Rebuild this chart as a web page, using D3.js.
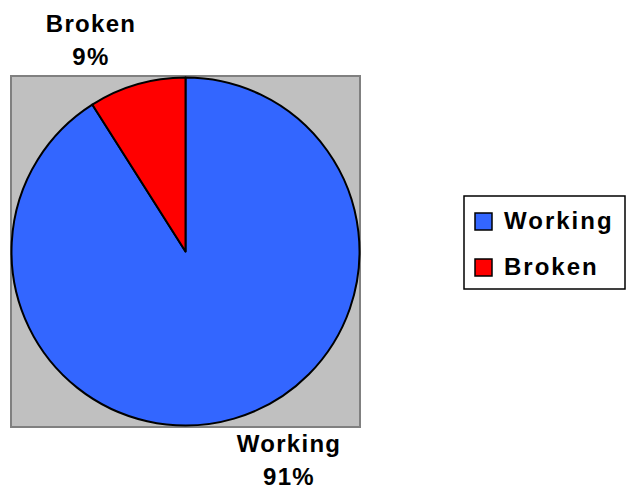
<!DOCTYPE html>
<html>
<head>
<meta charset="utf-8">
<script src="https://cdn.jsdelivr.net/npm/d3@7"></script>
<style>
body { margin: 0; background: #fff; }
text { font-family: "Liberation Sans", Arial, sans-serif; font-weight: bold; }
</style>
</head>
<body>
<div id="chart-area"></div>
<script>
var categories = ["Working", "Broken"];
var values = [91, 9];
var colors = ["#3366FF", "#FF0000"];

var width = 627, height = 490;

var svg = d3.select("#chart-area").append("svg")
    .attr("width", width)
    .attr("height", height);

// plot area
var plot = { x: 11, y: 76, w: 349, h: 351 };
svg.append("rect")
    .attr("x", plot.x)
    .attr("y", plot.y)
    .attr("width", plot.w)
    .attr("height", plot.h)
    .attr("fill", "#C0C0C0")
    .attr("stroke", "#808080")
    .attr("stroke-width", 2);

var cx = plot.x + plot.w / 2, cy = plot.y + plot.h / 2;
var radius = 174;

var data = categories.map(function(c, i) {
    return { name: c, value: values[i], color: colors[i] };
});

// working goes clockwise from 12 o'clock, broken fills the rest
var pie = d3.pie()
    .sort(null)
    .value(function(d) { return d.value; });

var arc = d3.arc().innerRadius(0).outerRadius(radius);

var g = svg.append("g")
    .attr("transform", "translate(" + cx + " " + cy + ")");

var arcs = pie(data);

g.selectAll("path")
    .data(arcs).enter()
    .append("path")
        .attr("d", arc)
        .attr("fill", function(d) { return d.data.color; })
        .attr("stroke", "#000")
        .attr("stroke-width", 2)
        .attr("stroke-linejoin", "round");

// labels outside the pie
var labelPos = [
    { x: 289, y: 452 },   // Working
    { x: 91, y: 32 }      // Broken
];
var fmt = d3.format(".0%");
var total = d3.sum(values);

var labels = svg.selectAll(".slice-label")
    .data(data).enter()
    .append("text")
        .attr("class", "slice-label")
        .attr("text-anchor", "middle")
        .attr("font-size", "24px")
        .attr("letter-spacing", "1.3px");

labels.append("tspan")
    .attr("x", function(d, i) { return labelPos[i].x; })
    .attr("y", function(d, i) { return labelPos[i].y; })
    .text(function(d) { return d.name; });
labels.append("tspan")
    .attr("x", function(d, i) { return labelPos[i].x; })
    .attr("y", function(d, i) { return labelPos[i].y + 33; })
    .text(function(d) { return fmt(d.value / total); });

// legend
var legend = svg.append("g")
    .attr("transform", "translate(464 196)");
legend.append("rect")
    .attr("width", 161)
    .attr("height", 93)
    .attr("fill", "#fff")
    .attr("stroke", "#000")
    .attr("stroke-width", 1.5);

var items = legend.selectAll(".item")
    .data(data).enter()
    .append("g")
        .attr("class", "item")
        .attr("transform", function(d, i) { return "translate(11 " + (17 + i * 46) + ")"; });
items.append("rect")
    .attr("width", 17)
    .attr("height", 17)
    .attr("fill", function(d) { return d.color; })
    .attr("stroke", "#000")
    .attr("stroke-width", 1.5);
items.append("text")
    .attr("x", 29)
    .attr("y", 16)
    .attr("font-size", "24px")
    .attr("letter-spacing", "2px")
    .text(function(d) { return d.name; });
</script>
</body>
</html>
